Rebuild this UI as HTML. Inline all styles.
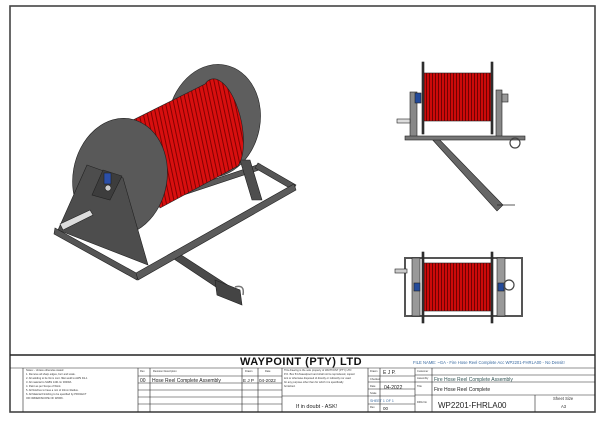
<!DOCTYPE html>
<html><head><meta charset="utf-8"><style>
html,body{margin:0;padding:0;background:#fff;}
svg text{font-family:"Liberation Sans",sans-serif;}
</style></head><body>
<svg width="600" height="416" viewBox="0 0 600 416" xmlns="http://www.w3.org/2000/svg">
<defs>
<pattern id="hose" width="4" height="10" patternUnits="userSpaceOnUse" patternTransform="rotate(-12)">
<rect width="4" height="10" fill="#d80f0f"/><rect width="0.9" height="10" fill="#7a0000"/>
</pattern>
<pattern id="hosev" width="3" height="10" patternUnits="userSpaceOnUse">
<rect width="3" height="10" fill="#cc0a0a"/><rect width="0.8" height="10" fill="#5a0000"/>
</pattern>
</defs>
<rect x="10" y="6" width="585" height="406" fill="none" stroke="#444" stroke-width="1.6"/>

<!-- ISO VIEW -->
<g stroke="#222" stroke-width="0.6">
<polygon points="73,226 260,164 262,169 75,231" fill="#5a5a5a"/>
<polygon points="258,163 296,185 293,190 255,168" fill="#555"/>
<!-- back flange -->
<ellipse cx="214" cy="121" rx="46" ry="57" transform="rotate(12 214 121)" fill="#5e5e5e"/>
<polygon points="240,160 250,160 262,200 252,200" fill="#4e4e4e"/>
<!-- drum -->
<path d="M123,125 L205,84 A18,42 -12 0 1 238,166 L160,208 Z" fill="url(#hose)"/>
<!-- front flange -->
<ellipse cx="120" cy="177" rx="47" ry="59" transform="rotate(10 120 177)" fill="#595959"/>
<!-- cross leg -->
<polygon points="168,255 175,251 240,293 234,299" fill="#4a4a4a"/>
<polygon points="215,280 240,290 242,305 217,295" fill="#444"/>
<path d="M235,287 q10,-3 8,8" fill="none" stroke="#777" stroke-width="1.5"/>
<!-- triangle support -->
<polygon points="87,165 123,178 148,265 58,230" fill="#4d4d4d"/>
<polygon points="103,170 122,176 110,200 92,195" fill="#3d3d3d"/>
<rect x="104" y="173" width="7" height="11" fill="#2b4fa8"/>
<circle cx="108" cy="188" r="3" fill="#ccc"/>
<polygon points="60,224 90,210 93,215 63,230" fill="#ddd"/>
<!-- front frame -->
<polygon points="55,228 138,274 137,280 54,234" fill="#555"/>
<polygon points="136,273 294,184 296,190 138,280" fill="#5b5b5b"/>
</g>

<!-- FRONT VIEW (top right) -->
<g stroke="#222" stroke-width="0.6">
<polygon points="430,137 437,137 503,205 497,211" fill="#666"/>
<line x1="497" y1="205" x2="515" y2="205" stroke="#222" stroke-width="0.8"/>
<rect x="410" y="92" width="7" height="45" fill="#888"/>
<rect x="397" y="119" width="13" height="4" fill="#ddd"/>
<rect x="415" y="93" width="6" height="10" fill="#234a9a"/>
<rect x="424" y="73" width="67" height="48" fill="url(#hosev)"/>
<rect x="422" y="62" width="2" height="72" fill="#333"/>
<rect x="491" y="62" width="2" height="72" fill="#333"/>
<rect x="496" y="90" width="6" height="47" fill="#888"/>
<rect x="502" y="94" width="6" height="8" fill="#999"/>
<rect x="405" y="136" width="120" height="4" fill="#777"/>
<circle cx="515" cy="143" r="5" fill="none" stroke="#444" stroke-width="1.2"/>
</g>

<!-- TOP VIEW -->
<g stroke="#222" stroke-width="0.6">
<rect x="405" y="258" width="117" height="58" fill="none" stroke="#555" stroke-width="2"/>
<rect x="395" y="269" width="12" height="4" fill="#ccc"/>
<rect x="412" y="258" width="8" height="58" fill="#999"/>
<rect x="497" y="258" width="8" height="58" fill="#999"/>
<rect x="414" y="283" width="6" height="8" fill="#234a9a"/>
<rect x="498" y="283" width="6" height="8" fill="#234a9a"/>
<circle cx="509" cy="285" r="5" fill="none" stroke="#444" stroke-width="1.2"/>
<rect x="424" y="263" width="67" height="48" fill="url(#hosev)"/>
<rect x="422" y="252" width="2" height="71" fill="#333"/>
<rect x="491" y="252" width="2" height="71" fill="#333"/>
</g>

<!-- TITLE BLOCK -->
<g fill="none" stroke="#222" stroke-width="0.6">
<line x1="10" y1="355" x2="595" y2="355" stroke-width="1.4"/>
<line x1="10" y1="368" x2="595" y2="368"/>
<line x1="23" y1="368" x2="23" y2="412"/>
<line x1="138" y1="368" x2="138" y2="412"/>
<line x1="150" y1="368" x2="150" y2="412"/>
<line x1="242" y1="368" x2="242" y2="412"/>
<line x1="258" y1="368" x2="258" y2="412"/>
<line x1="282" y1="368" x2="282" y2="412"/>
<line x1="138" y1="376" x2="282" y2="376"/>
<line x1="138" y1="383" x2="282" y2="383"/>
<line x1="138" y1="390" x2="282" y2="390"/>
<line x1="138" y1="397" x2="282" y2="397"/>
<line x1="138" y1="404" x2="282" y2="404"/>
<line x1="282" y1="396" x2="368" y2="396"/>
<line x1="368" y1="368" x2="368" y2="412"/>
<line x1="380" y1="368" x2="380" y2="412"/>
<line x1="415" y1="368" x2="415" y2="412"/>
<line x1="432" y1="368" x2="432" y2="412"/>
<line x1="368" y1="376" x2="415" y2="376"/>
<line x1="368" y1="382" x2="415" y2="382"/>
<line x1="368" y1="389" x2="415" y2="389"/>
<line x1="368" y1="396" x2="415" y2="396"/>
<line x1="368" y1="404" x2="415" y2="404"/>
<line x1="415" y1="375" x2="595" y2="375"/>
<line x1="415" y1="382" x2="595" y2="382"/>
<line x1="415" y1="395" x2="595" y2="395"/>
<line x1="535" y1="395" x2="535" y2="412"/>
</g>
<text x="301" y="365" font-size="11" font-weight="bold" text-anchor="middle" fill="#111" letter-spacing="0.5">WAYPOINT (PTY) LTD</text>
<text x="413" y="364" font-size="4.2" fill="#3a6aa0">FILE NAME: ~GA - Fire Hose Reel Complete Acc WP2201-FHRLA00 - No Densit!</text>
<g font-size="2.6" fill="#333">
<text x="26" y="371">Notes: - Unless otherwise stated</text>
<text x="26" y="375">1. Remove all sharp edges, burr and scale.</text>
<text x="26" y="379">2. All welding to be 6mm cont. fillet weld to AWS D1-1</text>
<text x="26" y="383">3. All material to SABS 1431 Gr 300WA</text>
<text x="26" y="387">4. Paint as per Scope of Work.</text>
<text x="26" y="391">5. All Notches to have a min of 10mm Radius.</text>
<text x="26" y="395">6. All Material Finishing to be specified by PROJECT</text>
<text x="26" y="399">OR ORDER/SCOPE OF WORK.</text>
<text x="140" y="372">Rev</text><text x="153" y="372">Revision Description</text>
<text x="245" y="372">Drawn</text><text x="265" y="372">Date</text>
<text x="284" y="371">This drawing is the sole property of WAYPOINT (PTY) LTD</text>
<text x="284" y="375">P.O. Box 54 Zwavelpoort and shall not be reproduced, copied</text>
<text x="284" y="379">lent or otherwise disposed of directly or indirectly nor used</text>
<text x="284" y="383">for any purpose other than for which it is specifically</text>
<text x="284" y="387">furnished.</text>
<text x="370" y="372">Drawn</text><text x="370" y="380">Checked</text><text x="370" y="387">Date</text><text x="370" y="394">Scale</text><text x="370" y="408">Rev</text>
<text x="417" y="372">Customer</text><text x="417" y="379">Assembly</text><text x="417" y="387">Title</text><text x="417" y="403">DRG No</text>
<text x="553" y="400" font-size="4.2">Sheet Size</text>
<text x="561" y="408" font-size="4.2">A3</text>
</g>
<g font-size="5" fill="#222">
<text x="140" y="382">00</text><text x="152" y="382">Hose Reel Complete Assembly</text>
<text x="243" y="382" font-size="4.6">E J P</text><text x="259" y="382" font-size="4.6">04-2022</text>
<text x="383" y="374">E J P.</text>
<text x="384" y="389">04-2022</text>
<text x="434" y="381" fill="#355">Fire Hose Reel Complete Assembly</text>
<text x="434" y="391">Fire Hose Reel Complete</text>
<text x="296" y="408" font-size="5.5">If in doubt - ASK!</text>
<text x="370" y="402" font-size="3.6" fill="#3a6aa0">SHEET 1 OF 1</text>
<text x="383" y="410" font-size="4.5">00</text>
<text x="438" y="408" font-size="8">WP2201-FHRLA00</text>
</g>
</svg>
</body></html>
